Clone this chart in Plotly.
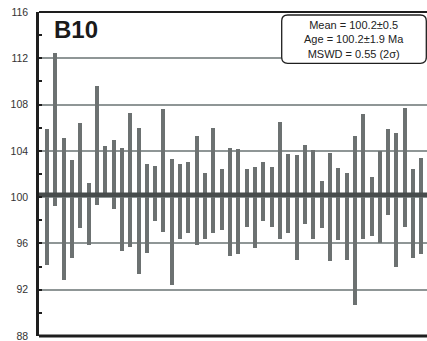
import plotly.graph_objects as go

# Spot analyses (2-sigma error bars), in Ma
analysis_no = list(range(1, 47))
upper_2s = [105.9, 112.5, 105.1, 103.25, 106.4, 101.2, 109.6, 104.4, 104.9, 104.25,
            107.3, 106.0, 102.9, 102.65, 107.6, 103.3, 102.9, 103.0, 105.3, 102.1,
            105.95, 102.4, 104.25, 104.2, 102.4, 102.6, 103.0, 102.6, 106.5, 103.7,
            103.6, 104.5, 104.1, 101.4, 103.8, 102.5, 102.1, 105.3, 107.2, 101.7,
            104.0, 105.9, 105.55, 107.7, 102.4, 103.4]
lower_2s = [94.1, 99.2, 92.8, 94.7, 97.3, 95.9, 99.3, 100.1, 99.0, 95.35,
            95.7, 93.4, 95.2, 97.9, 97.0, 92.4, 96.4, 96.9, 95.9, 96.4,
            96.9, 97.15, 94.9, 95.1, 97.4, 95.6, 97.9, 97.4, 96.4, 96.9,
            94.55, 97.7, 96.35, 97.3, 94.5, 96.3, 94.6, 90.7, 96.4, 96.6,
            96.0, 98.5, 94.0, 97.4, 94.7, 95.05]

weighted_mean = 100.2
sample_name = "B10"
summary_lines = ["Mean = 100.2±0.5", "Age = 100.2±1.9 Ma", "MSWD = 0.55 (2σ)"]
y_ticks = [88, 92, 96, 100, 104, 108, 112, 116]

W, H = 427, 341
ML, MR, MT, MB = 39, 0, 12, 5
PW, PH = W - ML - MR, H - MT - MB
X_RANGE = [0.04, 46.67]

def fx(px):
    return (px - ML) / PW

def fy(py):
    return 1 - (py - MT) / PH

BAR = "#6c7171"
MEAN = "#474c4c"
GRID = "#8f9696"
INK = "#1e1e1e"
FONT = "Liberation Sans, Arial, sans-serif"

fig = go.Figure()

# weighted mean line, drawn first so the error bars sit on top of it
fig.add_trace(go.Scatter(
    x=X_RANGE, y=[weighted_mean, weighted_mean], mode="lines",
    line=dict(color=MEAN, width=4.5), hoverinfo="skip",
))

fig.add_trace(go.Bar(
    x=analysis_no,
    y=[u - l for u, l in zip(upper_2s, lower_2s)],
    base=lower_2s,
    width=0.48,
    marker=dict(color=BAR, line=dict(width=0)),
    hoverinfo="skip",
))

# top and bottom frame lines
fig.add_shape(type="line", xref="paper", yref="paper", x0=0, x1=1, y0=1, y1=1,
              line=dict(color=INK, width=2))
fig.add_shape(type="line", xref="paper", yref="paper", x0=0, x1=1, y0=0, y1=0,
              line=dict(color=INK, width=3))

# rounded summary box
x0, x1, y0, y1, r = 281.7, 426.3, 15.0, 63.3, 6.0
box_path = (
    f"M {fx(x0 + r):.5f},{fy(y0):.5f} L {fx(x1 - r):.5f},{fy(y0):.5f} "
    f"Q {fx(x1):.5f},{fy(y0):.5f} {fx(x1):.5f},{fy(y0 + r):.5f} "
    f"L {fx(x1):.5f},{fy(y1 - r):.5f} "
    f"Q {fx(x1):.5f},{fy(y1):.5f} {fx(x1 - r):.5f},{fy(y1):.5f} "
    f"L {fx(x0 + r):.5f},{fy(y1):.5f} "
    f"Q {fx(x0):.5f},{fy(y1):.5f} {fx(x0):.5f},{fy(y1 - r):.5f} "
    f"L {fx(x0):.5f},{fy(y0 + r):.5f} "
    f"Q {fx(x0):.5f},{fy(y0):.5f} {fx(x0 + r):.5f},{fy(y0):.5f} Z"
)
fig.add_shape(type="path", xref="paper", yref="paper", path=box_path,
              fillcolor="white", line=dict(color=INK, width=1.3), layer="above")

fig.add_annotation(xref="paper", yref="paper", x=fx((x0 + x1) / 2), y=fy((y0 + y1) / 2),
                   text="<br>".join(summary_lines), showarrow=False,
                   xanchor="center", yanchor="middle", align="center",
                   font=dict(family=FONT, size=11, color="#222222"))

fig.add_annotation(xref="paper", yref="paper", x=fx(52), y=fy(29.5),
                   text=f"<b>{sample_name}</b>", showarrow=False,
                   xanchor="left", yanchor="middle",
                   font=dict(family=FONT, size=24, color="#1a1a1a"))

fig.update_layout(
    width=W, height=H,
    margin=dict(l=ML, r=MR, t=MT, b=MB, pad=0),
    paper_bgcolor="white", plot_bgcolor="white",
    showlegend=False, bargap=0,
    xaxis=dict(range=X_RANGE, showgrid=False, zeroline=False,
               showticklabels=False, ticks="", showline=False,
               fixedrange=True),
    yaxis=dict(range=[88, 116], tickmode="array", tickvals=y_ticks,
               ticktext=[str(v) for v in y_ticks],
               showgrid=True, gridcolor=GRID, gridwidth=2, zeroline=False,
               showline=True, linecolor=INK, linewidth=2.5,
               ticks="inside", ticklen=3, tickwidth=2, tickcolor=INK,
               minor=dict(dtick=2, tick0=88, ticks="inside", ticklen=3,
                          tickwidth=2, tickcolor=INK, showgrid=False),
               ticklabelstandoff=6, ticklabeloverflow="allow",
               tickfont=dict(family=FONT, size=10.5, color="#333333"),
               fixedrange=True),
)

fig.write_html("out.html")
